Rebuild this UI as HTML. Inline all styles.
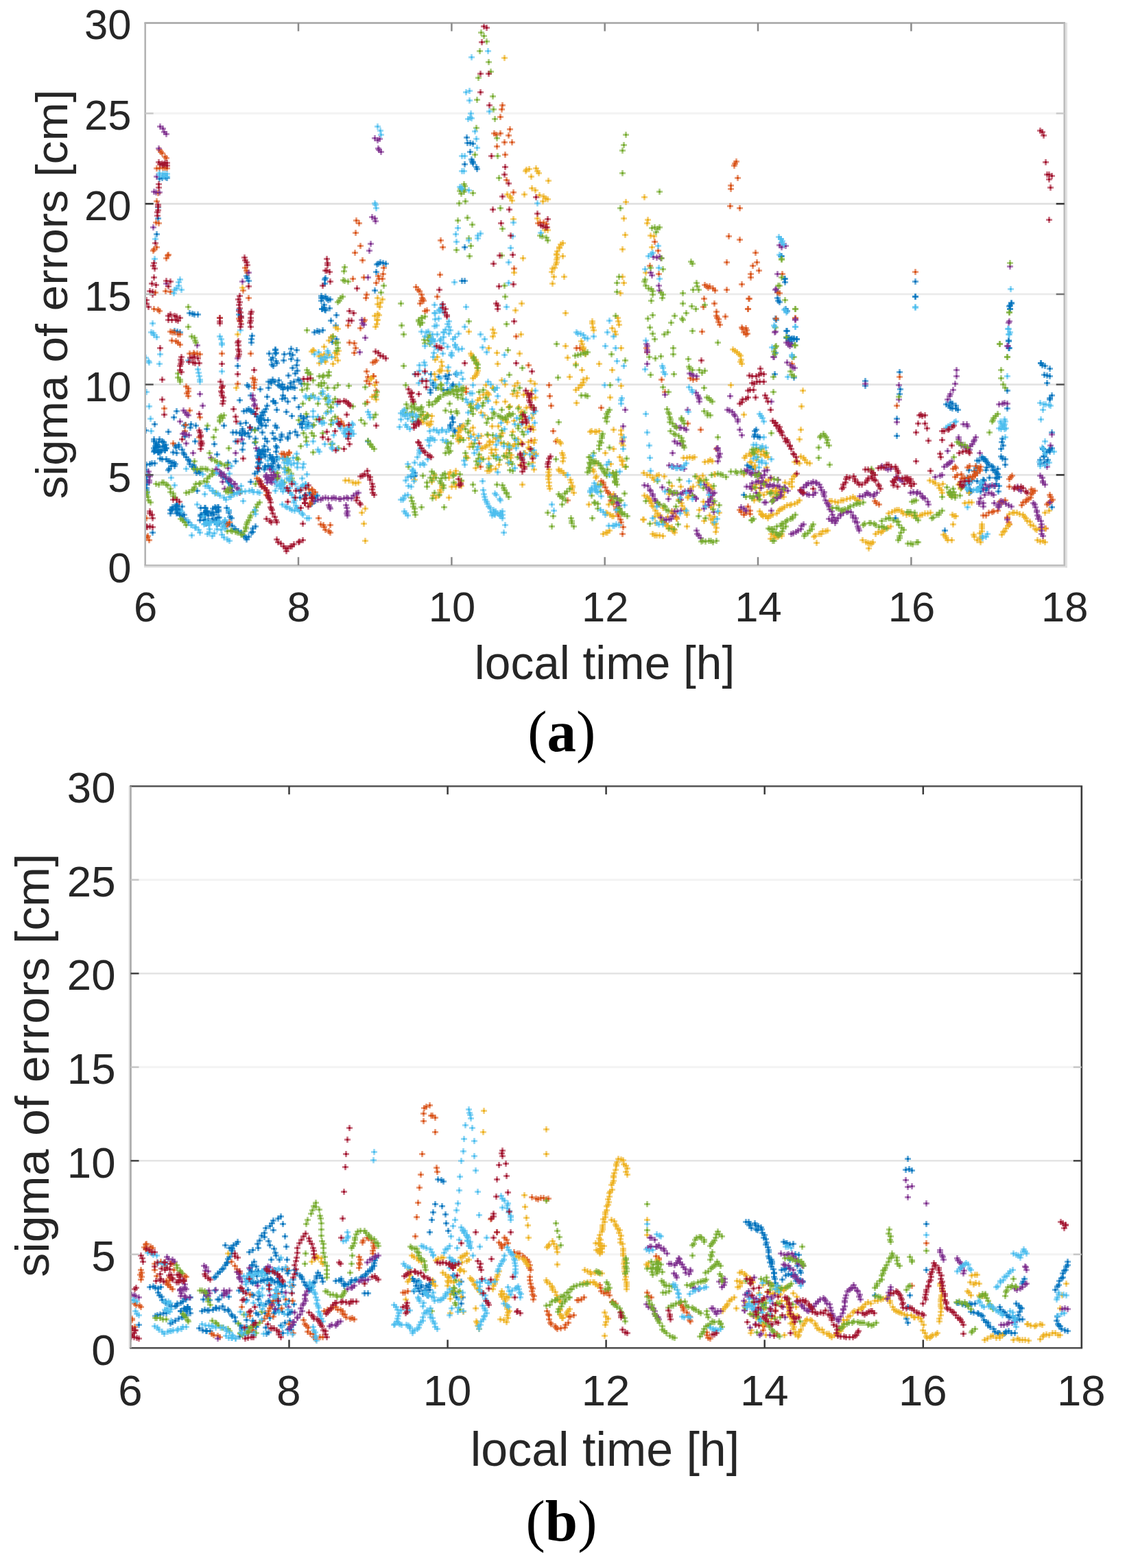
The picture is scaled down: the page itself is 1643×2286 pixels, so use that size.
<!DOCTYPE html>
<html><head><meta charset="utf-8"><title>sigma of errors</title>
<style>
html,body{margin:0;padding:0;background:#fff;}
body{width:1643px;height:2286px;overflow:hidden;}
svg{display:block;}
.t{font-family:"Liberation Sans",Arial,Helvetica,sans-serif;fill:#262626;}
.cap{font-family:"Liberation Serif","Times New Roman",serif;font-size:85px;fill:#000;}
</style></head><body>
<svg width="1643" height="2286" viewBox="0 0 1643 2286">
<rect width="1643" height="2286" fill="#fff"/>

<line x1="211.7" y1="692.4" x2="1551.7" y2="692.4" stroke="#e5e5e5" stroke-width="2.6"/>
<line x1="211.7" y1="560.6" x2="1551.7" y2="560.6" stroke="#e4e4e4" stroke-width="2.6"/>
<line x1="211.7" y1="428.9" x2="1551.7" y2="428.9" stroke="#ebebeb" stroke-width="2.8"/>
<line x1="211.7" y1="297.1" x2="1551.7" y2="297.1" stroke="#e0e0e0" stroke-width="2.6"/>
<line x1="211.7" y1="165.3" x2="1551.7" y2="165.3" stroke="#f3f3f3" stroke-width="3"/>
<line x1="190.5" y1="1828.8" x2="1576.8" y2="1828.8" stroke="#f3f3f3" stroke-width="3"/>
<line x1="190.5" y1="1692.3" x2="1576.8" y2="1692.3" stroke="#e4e4e4" stroke-width="2.6"/>
<line x1="190.5" y1="1555.8" x2="1576.8" y2="1555.8" stroke="#f3f3f3" stroke-width="3"/>
<line x1="190.5" y1="1419.2" x2="1576.8" y2="1419.2" stroke="#e4e4e4" stroke-width="2.6"/>
<line x1="190.5" y1="1282.7" x2="1576.8" y2="1282.7" stroke="#f3f3f3" stroke-width="3"/>
<defs><clipPath id="ca"><rect x="211.7" y="33.5" width="1340.0" height="790.7"/></clipPath><clipPath id="cb"><rect x="190.5" y="1146.2" width="1386.3" height="819.1"/></clipPath></defs>
<g clip-path="url(#ca)"><defs>
<marker id="mB" markerUnits="userSpaceOnUse" markerWidth="9" markerHeight="9" refX="4.5" refY="4.5" overflow="visible"><path d="M0 3h9v3H0zM3 0h3v9H3z" fill="#0072BD" fill-opacity="0.55"/><path d="M3 3h3v3H3z" fill="#0072BD"/></marker>
<marker id="mO" markerUnits="userSpaceOnUse" markerWidth="9" markerHeight="9" refX="4.5" refY="4.5" overflow="visible"><path d="M0 3h9v3H0zM3 0h3v9H3z" fill="#D95319" fill-opacity="0.55"/><path d="M3 3h3v3H3z" fill="#D95319"/></marker>
<marker id="mY" markerUnits="userSpaceOnUse" markerWidth="9" markerHeight="9" refX="4.5" refY="4.5" overflow="visible"><path d="M0 3h9v3H0zM3 0h3v9H3z" fill="#EDB120" fill-opacity="0.55"/><path d="M3 3h3v3H3z" fill="#EDB120"/></marker>
<marker id="mP" markerUnits="userSpaceOnUse" markerWidth="9" markerHeight="9" refX="4.5" refY="4.5" overflow="visible"><path d="M0 3h9v3H0zM3 0h3v9H3z" fill="#7E2F8E" fill-opacity="0.55"/><path d="M3 3h3v3H3z" fill="#7E2F8E"/></marker>
<marker id="mG" markerUnits="userSpaceOnUse" markerWidth="9" markerHeight="9" refX="4.5" refY="4.5" overflow="visible"><path d="M0 3h9v3H0zM3 0h3v9H3z" fill="#77AC30" fill-opacity="0.55"/><path d="M3 3h3v3H3z" fill="#77AC30"/></marker>
<marker id="mC" markerUnits="userSpaceOnUse" markerWidth="9" markerHeight="9" refX="4.5" refY="4.5" overflow="visible"><path d="M0 3h9v3H0zM3 0h3v9H3z" fill="#4DBEEE" fill-opacity="0.55"/><path d="M3 3h3v3H3z" fill="#4DBEEE"/></marker>
<marker id="mR" markerUnits="userSpaceOnUse" markerWidth="9" markerHeight="9" refX="4.5" refY="4.5" overflow="visible"><path d="M0 3h9v3H0zM3 0h3v9H3z" fill="#A2142F" fill-opacity="0.55"/><path d="M3 3h3v3H3z" fill="#A2142F"/></marker>
</defs>
<path fill="none" d="M232.5 260.5l4-1 5-1 2 1-13 59-2 23 131 61 1 3 2 4 112-4-1 2 0 6 76-28 2-1 3-2 4 1 4 1-14 12-2 27 127-14-434 241-4 6-11-3 16 3-3-6-12 6 4 0 12-8-11 11 6-16-12 0 16 13-15 1 17-4-13-2-5-11 17 13-9 6-1-1 7-14-11 2 0 6 0-4-3 10 5-9 5 9-4 1 2-8 0-11-1 4-22 34 4-1 5-1 3-1 4 0-13 9-1 3 0 3 2 5 0 4 1 3-1 4 0 5 0 3 0 4 9 58 11-108 3 1 6 0 3 3 2 0 6 2 2 2-1 3-5 0-3 4-1 2 9-203 4 1 4 1 14-28 4 1 3 1 5 0-20 162-8 28 0 3 5 4 2 5 1 2 3 4 3 4 2 2 0 4 4 4 3 1 1 3 5 3 2 2 35-69 22-169 0 7 2 3-4 72 21-44-1 5 0 5 0 101-27 30 5 0 5 1-6 12 0 29-23 18 2 0 3 5 4 2 3 4 1 2 3 4 2 3-1 5 3 3-48 32 10 12-5-15 20-8-14 20 10-20-21 1 26 5-5 16-12-16 18 9-20 3 1-12-9 13 26-4 1-15-20 11 21 13-17-18 1 6 15-8-4 14 1 1-6-11-9 0 14-7-17 18 1-18-6 12 8 11 16 1-17-24-5 11 17-1-13-1 11 7 4 4-3-19 5 5-8 2-50-13 0 2 3 5 2 2 0 6 3 2 2 5 3 1 4 3-18-20 12 9-12-12 9 0-17 10 10-1-1 1 1-11-10 6 15 5-13-4 6-2-5-3 9 9-10-6 77 19 3 2 4 1 4 2 3 5 2 0 4 3 4 2 4 5 3 2 1 3 3-4 4-6 2-1 0-5 4-3-42-27 3 4 0 3 2 6 2 2 45-98 14 12-20 5-1 6 21 0-3-17-7 2 17-13-1-2-23 9 24 10-18 15-5-17 10 12 8-4-14-13-7 21 18-4-17-13 21 6-23-5 26-9-24 3 18 22-19-28 3 7 10-7-7 1 22 22-30 9 0-23 31 17-9-15-18 8-4-17 10-7 1 31 10-12-2-2-17 6 9 6 17-13-11 13-6-21 11 26 57 37 5 9-8-12-7 4 0 0 10 12-17-9-1-10 23 10 3-3-102-161 51 20 1-5-59 52 57 8 2-69-9 56-14 20-18 2 40-85-61 57 69-51-43 58-13 12 28-71-11 46 7 9-26 11 19-14 23-20-21 33 48-1-32-44-44 61 56-13-33-20 56 21-32-47-15 52-5-19 20 19 18-54-70-2 36 29 34 27-67-5 67 3-21-53 24 47-14 10-29-74 18 64-31-5 63-46-28 40-12-42-18 48 46-26-61 31 59-51-16 59 26-33-35 6-25-36-1 46 16-12 3-5-21-42 73 30-77 23-3-17 4-1 3-2 3 2 4 2 2 3 3 4 3 4 1 4 1-6 1-4 2-4 3-1 2-4 2-5 16-30 2 1 3 2 4 0 5 1 4-1 3 0 3 1 10-6-38-50 1 17 34 28-4-44-2 34-7 14-31-43 36 41-4-33-4 24-25-23 7-10 12 2-13-1 23-7 2 9-35 39 9 0 34-3-38-22-2 25 39-16-20-15 19 7-10-17-21-5 25 26-29 17 6-24-6-8 36 4-35 8 8 21-11 4 52 49-9-1 4 8 0-4-5 8 18 2-7 1-8 2 6-5 3-2-7-7-2 8 96 26-64-199-4-13 12 18-11 1 9-13-4 15-1-1-5-13 8-3-7 15 3-2-4-14 2 0 11 2-7-4-16 52 4-2 3 1 5-2 12-14 1 25 1 6 6-39-1 15 1 20 164 52-5 2-3 20-19 4 25-20-21 6 28 4-31-17-1 23 4-7 4 4 4-16 21 11-8 8 12-23-8 79 0-3 6 6-6-8 7 10 10-8-14-11 1 5-1-7 11 13-67 73 1-5 0 4-5 1 81-494 1 8 4 0 4 1-4 12 2 11 1 3 1 3 5 5 1 3-6-10-12 3 0 121 0 49 462-36 4 33-10 19-31 201-2 2 0 5-1 3 5 0 3 1 26-203 3 6-6 24-1 81-40 133 3 3 3-1 3 3-14 38 250-311 0 22 140 10-3 4 1 4-2 47 0 10 47 22-373-123 0 5-10 27-3 28 16 16-1 10 3 0 4 2 4 0 4 0-12 2 1 2 4 3-24 13 8-141 9 80-2-3 1 32 1 10 3 0 4 1 3 0 4 1-4 56 104 5 0 7 50-20 1 25-1 7-4 36 0 25 27-203 45 157 4 2 2 3 3 1 5 0 3 2-11-11 3 2 5 3 81-150-2 4 0 5-2 46 1 11-3 62 0 26-7 44-1 5 2 5-3 5 0 11 2 3 4 1 0 8 52-148 2 3 4 1 7 4-8 9 4 1 4 1-4 10 7 18-3 4 0 2 3 48-3 28-3 12-5-5-6 5 13-14-3 17-10 3 17-23-13 1 0 0 5 5-4 6 1 9 8-19-106 16 3 0 7-2 2 0-131 86 124-46-17 6 16-5 4 1-8-10-13-2 3 14 28-17 13 20-1-33-11 25-5-27 15 16-15 14-15-30 30 9-41-5 44 23-36-22 32 19-15-20-8 31-19-20 3 22 2-2 34-8-37-2 21-7-16 1 30-15 4 11-28-7 9 16 5 9-3-14-3-34 2 2 4 4 2 2 2 3 4 2 2 1 2 5 3 3 2 3 2 4-79 78 156-34-1176-107-71 57 67-34 24 27-132-53 5 45 34-31 17-18 64 77-49-40-34 16 5 37 84-25-18-65-97 27 1 8 119 41-4-62-102-20 7 4 35 24 20 27-79-66-1 51 17-23 9-18-23 31-29 1-14-23 45-28 28 21-60-2" marker-start="url(#mB)" marker-mid="url(#mB)" marker-end="url(#mB)"/>
<path fill="none" d="M232.5 218.5l2 3 2 2 4 5 2 2-14 15 4 0 5-1 3 0 3 1-13 36-2 12-1 31 4 1-3 35-4 3-1 2 22 6-1 1-2 4-1 48 7 1-22 1 131-36 2 4 1 3-6 26 160-17 5-85 4 4-5 14 7 19-8 10 11 11 31 11-8 12 1 4 5 0 1-7-10 13-18-8 76 14 3 4 2 2 3 5 28-79 3 10-4 40-417 50 6 1 2 2-17 328-1 2 3 4-4-32 35-272 3 1 3 0 5 3 3 0-12 9 6 1 3 2 3 3 14 13 6-1 1 2 4-1 4 1-20 47 3 3 0 4-2 3 2 4 17 31-22 20 21 9 30-174 3 52 0 50 25-101 2 4-4 91 16-125 3 81 3 36 3 2-1 4 0 4 0 4-41 201 2-1 3-4 40-64 3 2 1 4 2 3 3 3 3 2 2 5 0 5 2 1 2 4 75 38 4 1 1 3 2 4 5 2 2 2 0-11-17-10-45-92-7 4 1-6 2 5-5-5 4 1 7-3 0 1 24 49 5 4 4 0 1 1 4 3-3 3-2 5 0 5-2 3 0 2 40-125 5 4 0 3 4 3 24-142-16 21-2-25 24-8-13 41 12-39-14 32 0 14 27 14 3-1 2-2-14-96-1 5 15 123-4-9-9 38 11-10-12-35 2 8 2 10-4-4 10-7 4 21 74-117-5-14-5 4 4-6-1-2 4 19-5-15 23-6 95-279-1 6-2 11 14 18-23 6 3 2 6-2 12 3-6 10 11 0-22 6 12 12 2 37 10 18 36 45 3-1 5 0 4 2-47 65 205-39 5 13-12 22 13 12 67 16 3 2 4 0 5 3 3 3-10-4 27 3 22-8-8-179-2 3-1 3 5 18-10 11 0 5-1 25 14 3-16 41 16 5 23 19 2 14-6 5 9 7-12 5 0 5-35-22 81 17-4 28-384 63 18 42-28 123-63-84 100 92-100-97 21 114-2-34 76-4-1-49 27-32 1 16 2 14 3 37 4 15 17 86 13-222 5 0 4 2 27 85 0 107 3 2 0 3 3 4 2 5 2 3 3 2 2 4-1 5 2 1 2 4 4 5 0 3 2 4 1 3 0 3 3 5 1 4 3 7-1 10 119-343 15 7-16 5 19 7 0 6 1 3 2 2 0 4 2 4 8-12-34 22-17 68 4 2 5-1-73-45 1 6 21 40 5 18 33 46 19 9-42 119 2 3 4 5 1 2 58-101 47-219-1 15-9 27 1 2 2 5 3 3-9 256 2 3 4 4 250-354-203 68 28-1-72 15 1 3 1 5 3-51-2 15 43-24 26 38-5 66 157 19-4 42-214 158-6-2 3-9 3 6 182-14 2 3 4 2 125-38-11-5-6-9 3-3 18 1 12-2-8 16-21-13 27 5 8-3-24 13-2 0 24-15-15 14-19-1 29-2-8-14 16 1-8 12-20-1 9 10 2-3 4 0 2-4 3-3 3-2 4-3 5 65 4 0 4-4 5-1 2-1 6-1 14 10 0 1 2 6 1 3-14-33 3 1 5-3 6-20 4-16-2 2-2 3 18 38 2-4 4-1 1-3 3-1 3-2 1-5 2-2 12 51 7 1 6-49 1 3 3 4-2 2-4 3-2 2-23-22 2 2 3 0-1238-96-31-24 37 3-24 48" marker-start="url(#mO)" marker-mid="url(#mO)" marker-end="url(#mO)"/>
<path fill="none" d="M353.5 419.5l-7 68-2 78 159 135 5 0 6 3 4 1 4-1 10 38-2 22 2 25-5-41-62-228 0 10 14-12-25-5 13 6 7 9 17-11-22 4 24-9-20 14-16-14 35 14-20-20 16 16-3 9 3-16-32-4 16 6 78-73 4-2 3-5-5 23-3 13 1-6 3-19-3-13-3 42 2-10-3-6 4-3-4 104-4 17-1-27 7 31-8-30 8 23-69-79 6-6 7-11-3-2 0 22-7-8 151 54 7-4 1-2 3-6-10-9 18 16-18 13 3-33 6 7 0 13-21 77 1-11 2 13-3-15 5 14-11-13-3 7 15 2 1-8-13 9 52 28 0-13-1 9 6-17-1 16-4-14 2 16-3-6 4-7 0 12-3 1 1-3-65 62 31 26 7-8 2-10-11-15 25 17-14 0 10-13-23 26 10-8 13 11 2-37-17 34 15-31-23 6-2 5 43 6-8-18 0 19 0-23 8 15-8 4 71-621 31 165 1-2 4-1 10-1 2 4 2 3-11 5 25 6-60 20 4 3 1 2 2 4 18-9 11-9 5 3 6 7 6 2 3 3 3 1-7 3-8 25 11 17 4 0-50-16 14 57-13 21 71-43-3 2-2 4 0 1-3 5-1 4 0 1 1 4-1 3 0 4-1 3-2 5-3 1-1 5 16-23-13 30 15 0-17 10 134-126-27 7-3 24 2 24-4 21 0 40 2 9-5 15 40-107-1 5 5 18 5 1-3 16-9 37-181 45-9 10-68 31 35-3 2 5-2 5 41-3-73 28 1 3 2 3 4 3 1 3 0 3 1 6 1 4-1 3-1 3-2 2-3 3 23-44 12 7 33 1-32 15 11 55 2 75 12-98-49 73 78-76-39 88 21-47 0 16 12-61 2 54-57-44-17 88 46-79-36-1-15 10 14 103 71-25-55-40 32 56-3-37-59-2 69 22-81-9 28-76 66 70-24-73 9 108 8-26-8 8-26-50 26 48 4-66 10 32-2-57 3 91-77 7-2-87 24 6 4 91 21-27-32 10 43-14 16 19-57-100 26 102-33-33 53 27-89-41 1-52 85 42-22 5-29-33 2 86 29-75-57-3 65 23-4 50-58-17-8 19 15-75 83 13-79 71 42 1-23-54 59 1 4-43-17-4-32-21-38 128 30-19-22-62-16 27 81-5-51 56 55-35-87-6 39 45-9-40 29-39-12 41 41-24-58 65-32-19 66-38-25 26 48-3-16-94-45 14 67 102-86-41 46-73-20 95 27-63 13 1-23 18 46 30-19 4-45 39 35-37-46-72 32 90 23-64-70 22 79-48-15 2-45-16-2 44 72 79-84-89 81-15-72 73 4-2 2-2 4-1 1-4 4 0 4-5 1-1 4-3 3 0 2-4 29 75 51-65 4 3 1 2-17 38-1 4 1 4-1 2 0 4 1 5 0 5 1 4 13-28 1 2 3 0 3 3 3 3-5-32 1 3 1 4-1 5 11 27 1 4 2 5 0 2-1 3 3 5-12-214 3 17 3 28-6-93 23 41 1 4 2 5 0 2 2 4 1 4 10-48 0 3 1 6 1 4 8 49-25 9-9-9 16 21-5 2 0 4-2 4-2 0-3 4-4 3 1 19 52-109 4 5 1 4 3-24 1 5 1 5 3 34-13 32 13 23-16 17-29 50 2-1 5 1 2 0 4-1 21-2 11 1 0 6 2 5 0 3-1 5 2 3-26 11 1 87 2 1 4 2 5 2-15 26 4-2 2 0 3-3 15-107 3 5 1 1 0 5 4 3-17-26-25 21 25 45-30-36 26-8 3 13-22 17 16 29-29 0 11-41 24 38-1 20-24-56 26-5-29-4 36 58 37-56 5 3 4 0 4 4 6-3 3-1-21 30 4 2 2 2 2 4 2 3 1 4 2 1 3 6 3 4 1 3 3 0 2 5 1 3 2 1 3 4 2 2 2 4 15-42 2 1 2 4 1 4 3 5 1 1 2 4 15-53 4 3 2 3 5 0 4 4 2 3 4 2 2 3-87 66 3 2 3 0 4 0 5 1 1-19 3 1 3 3 5 4 3 4 2 2 51-25 2 6 3 5 2 2-55-8 16-31 34 14-61-19 68 43-3-28-87-36 27 48-43 10 88-26-87 26 45-12 18 5-18 22 61-3-38-57-27-4 60 48-13 3 22-12-75 6-7-13-11 22 37-53 49-18 0 62-87 0 47 14 2-44 39-32-18 2-56 1 67 30-16-17 0 36-71-14 70-26-8 6-31 59 64 7-47-108 5 0 4-1 4 1 3-1 15 7 5-1 3-2 3 2 30-163 3 2 3 2 3 3 2 2 1 6-1 3 2 3 3 74-19-43 20 106 2-3 5-3 4-1 4-2 4 0 2-3 4-2 3 5 1 4 1 2 4 2-12 52-23-27 21 36 39-24-5 20-3-9 7 3-2-4-45-2 17-7-6 7 13-12-19 12 13-4 10-10-8 4 15 18 0-8-32 18 16-24-13 1 25 18-14-3-16-12 9-7 1 43 3 5 2 2 4 0 3 3 5 23 4 2 2 1 4 1 5-1 31-212-2 23-1 34-2 14 2 25 4 2 2 3 3 4 4 1-22-2 4 0 3 2-65 3-6-14 8 6 15 11-24-8 6-12 1 20-5-7 14-12 7 1-7 86 2 1 5 2 4 0 3-1 3-1 6-2 3-4 2-2 3-1 3-2 4-3 4 0 2-1 5-1 4-2 3-3-47-12 5-1 3-1 4 1 3 2 3 2 3 1 3 3-19 61 6-2 3-1 3-2 4-2 47 4 2-1 6-3 3 0 2-4 4 0 3-1-16 18-40-86 4-3 0-4 3-4 2-2-5 17 55 21 3 0 5 1 4 1 5-3 3 0 5-2 5-1 4-2 3 2 3 3 3 0 5 58 5 3 3 1 3 1 2 0 2-2-6 9 10-21 4-3 4 1 2-2 3-3 5-2 4-2-3-19 5-2 4-2 3-1 3 0 4 2 2 3 5 2 4-1 4 2 3 0 4 1 5-1 3-1 4-2 4 0 4-1-1-47 5 2 3 2 5 3 1 4 3 3 1 4 26-14-8 18 9-10-26-7 23 1-11 16 26-4-28 3-9 58 3 2 1 3 2 3 6 0 1-37 3 2 2 0-4 12 30 15 1 3 4 5 5 3-1-5 2-2-2-6 3-3 0-4 0-3 0-3 29 15 2-4 2-1 2-4 3-4 2-2 0-15 5-2 2 0 4 0 4 2 5 1 2 3 2 2 2 4 4 1 1 5 4 1 3 5 2 1 5-1 2-1 5 0-11 17 4 2 4-1 3 2 0-43 6-3-123-11 6-1 4 0" marker-start="url(#mY)" marker-mid="url(#mY)" marker-end="url(#mY)"/>
<path fill="none" d="M233.5 184.5l4 3 2 5 3 3-11 21-3 41-4 22 3 1 5 0-9 51 19 82 120-16-9 13 189-94 4 2 1 4-7 33-2 10-2 39 10-203 4 3 3-2-2 14 1 2 3 3-339 466 1 5 1 2-1 6 0 3 70-200 4 71 4 17-28 7 3 3 2 3 2 1-12 9 4 18 2-1 3 2 4 1-4 12 10 14 65-138 22 54 0 5 2 2 1 6-1 2-27 69-29 24 2 0 4 4 2 1 4 2 2 4 5 3 2 1 1 2 5 4 1 0 3 6 2 2 2 5-22-6 6 1 4 2 120 15 6-2 4 0 3-2 4-1 4 1 5 0 3-1 3 1 5 1 2 0 5-1 4-1 2 1 5 0 3-4 4-3 3-1-18 18 1 4 1 5-1 3 1 3-27-15 1 3 1 2-79-44 1 0-4-5-7 4-4-4 14 6-3-10-4 4 4 0 1 10-10-6 12-5-6 12-9-9 2 5 16-5-17 1 9 3-1-2 7-2-9 8-4-5 4 2-5 4 4-19 131-171 4-42-1-5 3 7 2 19 420-118 5 1 4-1 2 2-15 21 2 4 10 15 1 7 175-66 3 3 6-2-12 41-3 23-219 175-3 24-1 22-11 80 3 3 0 6 2 1 1 4 0 4 103-197 3 1 2 2 5 1-73-47 1 3 0 6 0 3 0 17 26 45 45-3 3 4 1 3 1 2 0 4-34 36 5 2 2 0 5 1 3 2-17 17 4 3 4 0 4 3-15 11 22-63-63 110 5 1 3 6 1 1 3 5 0 2 3 5 1 3 3 3 2 2 15-57 4 1 2 1 6-1 4 2 1 0 5 2-17 36 3-1 4 1 5 1 3-2 3-2 5-1 2 3 4 4 3 2 14-18 3 4 4 3 1 2 5 4-2 3-2 4 0 2-3 3 1 5-5 1-2 4-11 32 1 5 2 2 3 4-58-30 5 4 3-1 4 0 3-1 2-4 65-99 1 0 0 3 3 5-2 3 1 2-2 6-12 46 6 28-66-19 67-9-34-3-42-5 8 4 41 13 25 5-47 12 22-18 18 5-40-3-5 17-4 0 81-168-4 20 3 1 4 2 3 4 1 2 4 5 0 3 3 12 3 8 49-151-3 37-3 65-39 101 3 1 5 2 3 0 5 0 1 13 3-1 4 3 3-1 5 3 5 0 4 2 2-1 5 1 3 1-56 30 4 2 3 3 37 0-14-48 23 29-29-1 12 8-23-23 9 9 30 8-12-17 14-10-30 24 10 9-19-20 377-324-2 82-2 34-309-39-30 19 17 15 3 3 2 2-23 16 3-99 28 45-10 33 5 3-7 26 5 4 3 3 3 1 103 23 49 2 0 21-3 33 87-76 0 9-2 11-3 9-4 6-1 3-3 5 90-114-2 36-13 85 5-1 3-1 4 1 65 45-2 16-5 31-122-62 5 0 1 3-13 16 0 3 3 5 1 4 5 2 2 1 5 3 1-5 3-3 2-4 1-2 2-4-41 20-5 23 4-3 2-1 2-2 3-2 41-12-333 31 23-6-4 1 9 10-14 15-20-26 23 17 2-10-9-3-3 3 6 1-12 11-8 5 17-18 21 39 1-1 5-4 5-2 1-2 0-4 2-4 3-3 1 1 4 4 5 63 3-1 4-2 3-2 4-2 1-5 3-2-4-48 1-2 3-4 4-3 0-1 3-2 4 0 3-2 4 1 1 1 4 2 2 4 1 4 4 3-1 3 1 3 2 6 2 4 2 2 1 3 1 4 3 3 1 5 2 4 2 4-47-39 6 1 3 1 6 0 3-3 20 38 4 3 1-1 4 4 1-3 3-4 4-4 0-2 4-2 5-1 2-1 4 1 3 5 0 3 4 1-1 5 3 1 1 6 1 3 1 3 1-50 4 0 4-2 2-3 2 1 3 2 5 2 1-3 4-2 7-39 6 3 3 2 4-1 8 12 3 2 3 2 3 2 12 17 4-1 5 2 1-2 4 2 3 4 1 2 3 1 4 5 1 4 10-40 7-2 3-1 82 47-20-18 1-15 20 29-23-22 16 20-8-15-8 15 22 3-26-10 30 4-18-21-14 22 0 3 21-13 8 17-10-31-1 12-12 19 17-30 12 23 4 3 4 2 4 2 32-5 2 2 1 4 2 5 0 2 1 5 2 2-1 3 4 3 1 5 0 4 0 5 0 5 2 3-4-88 3 3 1 5 0 2 3 3 7 26-47-23 2 4 3 2-20 42-1144-55-17-35 66-14-41 29-10 11 30-53" marker-start="url(#mP)" marker-mid="url(#mP)" marker-end="url(#mP)"/>
<path fill="none" d="M502.5 389.5l-1 6-1 13 2 1 5 1 52 6-4 10 116-151-1 3 2 4-3 14-2 25-2 43-451 353-1 4 2 3 1 5 3 3 8-27 4 1 5-3 2 0 4 3 2 1 4 5 0 5 4 2 0 4 3 2 4-181 0 6 3 3 0 3 12-109 0 29 5 14 4 2 1 4 1 3 39 110-4 3 0 2-6 12-3 11-29 46 5 1 5-1 3 0 4 0 3 1 7 2 2 3-2 2-4 3-3 3-1 5-4-1-6 3-1 1-5 0-2 5-1 3-2 1-5 3-4 1 37-49 5 2 3 2 4 2 2 1 5 2 4-1-11-69 2-2 4-1-21 55-42 96 3 2 3 3 2 4 60 9 5-1 2 1 5 1 3 1 5 3 2 0 3-5 2-4 0-2 1-4 1-3 2-3 2-4 1-3 4-5 3-2 1-5 2-4 3-3-49-16 3 1 5 1 82-50-1 3 1 14 2 13-17-1 14-10 7 10-10-15 19-13-10 21-20-1 21 12-11 2 6-19 12-17 6-17 36-69-11 7-13-8 6 79 37-6-52-65 46-23-10 24 15-28-10 33-39-35 40 53-37-9 42-22-20-8-22 64 30-58-36-11 30 41-19-29 19 51 12-13-35-52 30 34 0-35 5 28 2 54-20-86 24 46-3-21-39 57 10-67 1 43-22-7 26-1-19 20 40 16-28-16 3 4 79 7 3 5 1 1 2 3 3 3-31-62 18-28 15 14-3 30 5-37-23 41-18-50 24 26 15 16-16 13-75-63 12 8 2-13-21-6 30-1-31 1 20 15 4 0-25-19 32 8-2 0-25-2-4 15 23-13-6 1-18-67 45-41 2-2 2-4 3-2-14 58 7 9 0 8-2 4-1-11 95-58 1 32 3 13 0 46 3 28 23-98 5-2-7 12-2-7 2 5 3-1-5-2 5-5 11 38 2-5-2-8-2 8-6-1 10-1-5-3-4 9-15 95-13 7 11-16 5 28-15-25 22 4-14 7 0 2 9 11 16-27-15 21 11 1-8-4-10-11 15 17 5-5-22 2 15-7-3-5-3 2-17-2 9 19 6-18-9-4 4-3 22 1 5-1 4-4 2-1 2-4 3-2 5-3 3-2 3 0 4-1 4-3 4-1 4 0 4-2 3-1-9 37-12-31 3 29-15-40 13 28 11-13 8-6-9-6-27 2 1 16 19-14 14 8-29-8 22 32-22-38 23 9 8 11-13-7 6 5-18 19 0 62 7-3-5-12 1-1 1 7-1 2 8-18-3 11 13-5-16 18-59 21 51 27-14-17-2 36 12-22-9 14 12-26-4 9-6-5-6 4 0-13-7 22-6-16 27 4-16-1 21-6-8 31-18-18 24 8-47 14 1 5 2 4 0 4 2 3 0 5 1 4 9-11 33 0 25-39-23-4 12-4 9-1-9 12-1-10 41-646 4 5 4 8-10 14 13 16 3 14-18 9 21 27-23 5 24 14 2 14-27 13 30 15-32 24 33 2 2 32-51 9 1 3 0 5-1 3 13 2-11 12 51 10-48 14 7 10 99 16 3 1 6 2 2 4-66-17-49 14 3 11 45 14-47 1 51 43 177-220-3 15-2 8 0 33 54 27-57 24-2 100-3 9 0 13 51-93 4-1 7 0-3 2-2 5 8 38-16 14 18 2-26 15-1 3 2 6 4 4 4 1 2 3 0 5 12-3 3 3 41-48 2 3 6 28 1 5 2 5-8 0-15 5 144-49 0 26-3 12-400 16-53 36 55 4-48 48 0 2 1 3 3 4 2 2 0 5 44-26 21 26-19 10-33 70-23-23 31 16 60-15-81 83 27-9 19-8-34-81 47 41-21 26 21-51-42 83 18-81 11-4 15-28 6 68-51 48-9-90-21 39 73 17-36 17-33-65 57 86-1-36 15-39 18 46-64-46 49-5-66 67 37-45 15 49-57-73-7 10 46 57 18-36-28 0-14 35 55-1-68-22 64-22 15 52-16-10-10 7-55-22 61-12-46-71 35 98-35-79-6-16 49 115 13-80-11-37 15 32-89 40 14-46-8 22 53 47-55 3 7-79 56 15-32 30-12 29-1 6 64-39-83 31 0-35 42-58 22 86-5-42-8 25-10-35 1 2 6 3 3 1 3 2 4-1 4-2 4-1 3-2-58 103 43 1 2 4 1 3 3 4 0 1 3 5-49-9 32-9 90-91-4 54 4 51 2 3 3 1 1 2 4 3-5 6-21 12 8 5 26 3 1 4 0 3 3 5-32 0 19-48 3-3 4-4-19-211 2 49 25-32 4-1 4-1 4-2 3 1 3-2-17 19 8 44 6 0 3 1 41-117-6 56 20 9-22 36-1 36-4 17-2-5 3-2-1-4 2-3-8 32-1 3 0 3-3 5 2 2-3 4 0 5 15-2-23 8-7 6 4 4 3 2 3 0 4 3 3 3 1 4 2 1 2 4 1 2 3 4 4-2 5-2 2 4 0 2 1 6 1 1 2 4-10 18 6 2 3 0 5 3 2 0-5 13 3 2 3 3 1 2 3 0 4 3-16-60-38-26 6 66-10-44 15 46 42-66-50 87 49-75-37 36 0-10 9-15-25-17 7 1 26 57-21 9 27-43-13-14 25 35-51-38 37 22 2-15 4 54-40-20 5 11 36 8-43-66 0 2-2 5 1 4 124-226 17-4-32 31 35 36-30-39 50 59-28-101-14 65-16-73 62 106-76-54 44-20-49 54 63-38-62-5 1 69-4-82 64-18-59-8 5 56 60-44-59 72 23-52-27-11 76-15-64 75 56 20-37 6 12-81-13 52 65-17-42 35 1 3 4 2-43 25 8 7 52-6 4 14 3 1 2 3 3 2-66 11 2 5 1 2 1 5 1 3-1 4 4 2 3 4 3 2 7-14 0 2 2 2 2 4-20 11 5 4 2 1 5 2 4 3 0 4 2 1 1 6 1 3 29-53 5 3 0 3 4 0 11 32-71 78 2 1 5 2 4 0 36 71 2-1 4 1 5-1 3 0 3 2 5-2 2-98 4 1 3 1 5 3-73 43 43 17-40 9-6 7 8-72 31 3-8-8 35 42-28-36-11 22-44 38-24-30 6 33 90-71-48 38 29 22-43 18-17-69 71-2-71 33 17-29 66 27-16-19 15-3-1 34-78-7 6 2 2 1 2 5 3 1 156-239-1 2-1 5 1 4-2 33 0 22-3 60-59 56 7 0 2 2 6-2 4 2 22 33 22-24-30 25 26-5-2 1-22-27 6-2 36 22-17 19 8-32-29-5 28 27-19-16-13 5 27 18-7 42 5 1 1 4 5 1 2 3 2 1 2-2 3-4 1-4 4-3-19 21-28-32-3 2 377-375-1 72-14 46 11 19-324-83 15 13-29 27 29 26-13-12-15 13 24 16-21-104 5-39 20 73-1 53-1 17-5 21 2 5 3 2 38 89 1-2 4-3 2 3 2 2 2 4-1 4 3 4-15 3 0 15 16 10 101-99 161-123-14 46 11 19-9 19 0 12 3 9 3 5-19 49 1-2 1-3 3-3 3-3-12 27-47 14 3 2 4 2 4 0 4 4-20 14-286 0-7-7 2 2-3-6 6-2-4 2 11-1 8 6-30 64 9 2-3-3 12-2 2 7 15 43 3 0 3 0 4-4 6-1 1-3 2 0 4-3 2-2 5-2 3-1 0-2 4-3-31 38-32-30 76 23 1-3 4-1 3-4 3-2 0-4 2-3 28-24 6 0 3 1 4 3 2-1 3-1 5-2 3-2 5-2 4-2 2-1 3 1 5-2 12-49 0 2 2 4-14 76 2-2 7-1 2 0 5 1 2 2 5 3 4-1 3 1 4 2-7-11 6-3 4-1 2 0 5 3 5 2 2 0 1 5 4 4 3 3-4 4-2 5 0 3-2 3 13-41 2 0 3 0 6 1 0 4 2 4 3 3-15 34 4 0 3 1 6-3 2 0-9-59 3-1 3-1 23 26 2-1 5-4 3 0 1-3 4-3 19-19-4-4 11 1-7-1-5 3 2-12-4 6 0 3-2-4 2 0 16-6-28 13 11-6 6-1-10-7-1097-38 68 44 20-89-57 91 17-5-29-93 70 24-39 9 2 58 37-6" marker-start="url(#mG)" marker-mid="url(#mG)" marker-end="url(#mG)"/>
<path fill="none" d="M232.5 252.5l5 1 3 0 3 0-11 2 5 2 2 0 4 0-13 45-4 46-1 29 28 50 1-5 3-2 3-4 0-5 2-4 2 15 282-126 1 2 1 5 2-119 4 6 1 6 118 31 0 22-3 23 2 1 1 2-6 57-3 9 1 11-3 59-440 60-2 13 3 1 1 3 4 3-16 30 4 5 1 2-4 43 4 21 2 18 1 18 13-112-1 14 56 8 1 5 1 5 1 5 0 3-17-31-3 158 49-193 2 4 1 6 0 2 0 39 27-60-51 227 4 0 2 3 4 4 1 0 3 4 4 0 3 3 6 3 3 3 5-4 2 0 5-4 4-1 3-2 4-1 5 0 6-1 4-1 2 3 6 0 3 1-58 42-15 2-3 16 13-14-6 17 4-20 9 11 6-14-16 19 11 2-25-16 3-3 27 10-2-5-2 2-19 9 22-18-11 13-12-6-3-4 4 10 12-10-20 3 21-4-11 1-29 4 1 0 5 4 1-1 4 4 2 4-12 4 47 3 5 3 3 2 73-82 2 1 5 3 2 3 3 2 4 3 2 3 3 4 1 4-1 3 3 5 1 3 2 2 2 3 4 3 1 2 6 5 3 0-39-20 5 3 2 1 4 2 3 2 4 1-15-61-13 1 20 16-3-25-6 28 35-12-36 15 9-34-13 33 33-8-16-4-12 23 6-19 23 10-17-30 3-10 14 14 1-5-23-1 2-4-20 31 13-28 1 14 7 9 11-16 13 28-43-1 42-3-38 3 25-47-31 54 32-40-27-7 6 37 6-36 27 37-36 6 21-7 3 7 6-3-29-9 17 3-5 8 6-36-16-7 35-20 44-34-22 3 1-47 21 19-38-12 3 66-11-66 33 9-33 37 27-7 6-39 8 57-40-55 22 35-10-35 6 2 9 66-22-26 29-38 4 71-21-47 22 9-22 39 19-56-26 0 9 59 18-6 1-6-38-30 45 38-35-47 19-5-5-28-5 40 38 18-8-11 20 11-19-8 5 7 6 3 5-7-2 5 0-5 1 4 3-12-1-2-2 12-7 7 2-11 5 10-4-10-4 1 7-3-8 5 34-28 2 4 1 4-75-95 12 8-8 6 9-16-7 13-3-2-9-6 25 4-5-6-5 6 176-40-15-24 6-3-7 3 3 18 6-25-3 15 1-13-7-7 21 32-21-1 21-7-20-3 7-13 3-8 8 28-6 12 0-29-27 49 44-1-33-16 33 4-30 6 0 8-9-22 22 17 17 2 5 7-27-13-22-6 28-6 7 2-16 23-24-26 23 4 19-6 8 25-4-12-33 6 15-6-11 0 21 11 16-19-40 8 18-3-25-7 9 11 43 13-54 35-8-3 34-25-13-1 2 46 8-9 15-34 17 35-64 6 21-38 41 23-14-25 0-4-39 18-15 13 14-17 35 7 13 11-1-3 4 17-54-7 12 1 24 4-40-26 45 33-74 57 12-12 3-5-10-6 3 7 11 7 6-6-1 7-22-12 13 23-6-6 2 3-9-11 22-6-17-8-2 7 14-1-8 0 57 26 0 14-18-17-6 16-3-1 4-3-1-10 18-1-11 14 12 0 9-15-24 13 14-13-5 4-3-3-18 50 5-8-11-11 0 19-1-17 1-7 13-4-9 26-8-9 3-10-17 20 9 25 1-27-3 10-1 8-5 16-4-8 12-9-4 18-5-14 8-9-1 0-17 42 3 0 1-2 2-4 4-1-5 24 2 3 3 3 117-677-24 9-8 51 5-2 0 14 29 16-27 3-4 8 3-2 2 1 5 19 2 11 1 13-18 12-1 22 7 28 100 19 5 43-40-15-1 20-47-4-4 3 0 4-13 3 61 11-3 21 0 30 218-54-14 15 4-3 2-2-11 24 20-2 1 16 174-61 3 3 2 3-4 20-457 76 59 0-61 29 23 11 6 7-3 12 6 7 26 4-24 39 24-1-36 117 82-8-4-62 3-33-55 8-2 71 27-30-39-34 6 12-22 59 35-39-34 35-1-57 39 56 44 6-2 23-24-26-71-67-5 85 76-30-49-36-11 36 88-42-101-17 33 94 48-58-75-45 6 87 34 28 47-26-47 4-37-93 47 52-38-33-20 85 73 5 29-66-26-7 8 59-72-107 8 74 18-75 48 101-39-96 45 64-87-28 59 73-15-32-30-51 75 18-85 27 2-51 35 50 19 16-21-83-17 146 1 6 1 4 1 4 2 3 1 3 2 4 2 2 5 3 3 2 3 3 4-1 3 3-13-3-4-1 15 6-9-2 7 1 1-3-12 3 3-2 1-1 11-3 0 10 2 21 2-11-15-46 2 2 5 6 1 2-26-28 124-9-23 43 3 9 33-260 2 2 4 0 4 2 2 4 4 1 9-3 23-23-3 17 9 6 3 17-15-3 27 29-10-7 2 27-20 8 25 19-1 3 0 5 4 49-38 80 2-8-13 8 7-9 2 1-7 2 5 3-7 1 8-3 1 4 6 27 4 3 3 4 5 16 6 0 2 0 3-2 4 1 6-111-10 89 5-56-27 36-14-10 2-49 23 9 23 63-26-59-18 27 22-12 52-154 1-42 24 37 1 3 1 6 2 3 35 19 4 4 1 3-68 32 2 27 3 19 1 18 1 19 55-86-24 80 6 2 2 0 5 0 3 0 2-4 3-3-43 87 3 2 6 0 75-3 5-16-37-18 24-6-82 34 77-17-7-32-30 42 54 8-88-18 43-20-42-19 33 26-22-9 31 28 4-43 103-98 2 3 2 3 2 5 0 23-15 11 4 0 6 4 3-2 5 2 13-176-27 190-4 2 8 5 4-2 6 4 8-6-14 5-4 7 228-234 139-26-3 58 0 8-327-36 2 1 1 3-18 19 31 2-34 30 29 11-16-169 1 5 3 3 17 120-5 43-6 30 186-101 135 31 3 5-1 3-3 61-10 66 6 4-3 2-2-3-3 7 3 1 4-5 1-9 1 3 1 10-2 1-3-3 4 15 51-50 5 2 3 0 5 1 2 1-11 6-3 14 6 32-4 9 2 3 8 19 7-16-21 15 8 5 0-17-7 18-137-56 3-2 3-2 6-4 2-1 37 90-28 2 9-3 3-2 14 8-1 4-4 1-13-1-2-3 11 4-12-8 18 8 5-11-22-1 15 11 9 71 0-3 5 1 2-4-29-39-1076-49 20 40-3-22-36-19-61 18 83-28 35 70-1-6-53-65-31 57 103-64-141 25 49 24-34 25 32 7-1-61-22 67 60-15" marker-start="url(#mC)" marker-mid="url(#mC)" marker-end="url(#mC)"/>
<path fill="none" d="M231.5 236.5l5 2 4-1 3 0-10 2 4 1 2-1 4 2-12 27 0 5-1 25 0 3 0 5-1 3 0 5-3 40-2 29-1 4 2 4-1 13-3 9 6 2 15-6 6 1-3 7-27 7 4 1 0 4 134-54 1 4 2 3 1 4 2 31 114-40 1 6 0 3-3 8 2 0 4 2 1 14-11 6 50 4 120 2-427 15 0 5 3 5 20 106 0 29 3 22-6-97-15 238 0 3 3 2 1 5-9 12 1 1 4-1 4 1 30-40 5 0 4 3-16-271 3-2 6 2 3 1 5 2-17 3 5 0 6 0 3 1 5 53-1 4 1 3-1 3-1 3 0 6 2 3 11-15 6 1 3 1 6 0-13-8 3 0 3-1 5 2 2 81-25 37 25-13 1 3 1 4 0 2 1 7-1 3 1 3-1 5 2-8 26-183 0 5 0 3 3 59-2 26 3 6-1 2-1 6 1 2 0 4 2 3 0 5-1 4 25-157-2 5 2 4-1 4 1 5-1 4 2 2 1 6 0 2-2 4 2 5-1 4-3 21-1 2 1 4 0 6 1 3 0 4-1 3-1 26 20-91-1 3 0 6 0 4-1 3 1 6 5 63 2 64-29 4 1 7 2 29 33 58 1 4 1 4 4 2 3 3 3 4-1 4 1 3 2 3 1 4 0 7 1 2 1 2 1 5 3 5 2 5 1 3-15-5 5 3 2 2 8 25 2 4 4 2 4 4 3 3 1 4 2-4 4-3 2 0 3-3 7-3 1-1 5-2 0-24 84-69 3-1 3-2 4-5 1 7 3 2 0 4 3 6 1 4-1 4 1 5 2 3-25 4-1 4 5 4 1 2-87-21 0 26 6-7-13-18-1 10 14 8-25-2 35-7-34-9-2-4 37 15-11 7 11-7-12 1 3-1-1-15 0 10 4-14-24-2 24 33 16-127 44 36-2-8-6 15 4-50-11 14 1 0-6 38 4-39-5 11 20-9-30 21-8-3 38-5-32-3 16-44 3 0 6-1 3 1 3 2 1 2 2 2 38 29-106-68 6 0 4-1 95-39 4 2 3 4 4 1 4 3-53-69-1 14 7-11-3 11 133-24 0 5 4 2-1 5 3 4 0 2-15 43 4 2 3 1-38 38 5 29 9-33-19 31 15-17-6-10 12 10 0 9-26 3 2 6 2 0 0 5 2 4 1 3 8 33 0-2-7 2 0 5 3-3 3-6 0 30 1 1 2 4 2 4 3 4 2 2 4 4 3 1 2 2 41 41 2-1-3-8 3 6 34-666 4 2-7 21-2 46 12 0-12 27 13 19 3 74 20 16-1 11 6 13-9 19 49 1-63 18 24 0 41 6 5 17 3 1 4 2 2 0 1-12-68 6 14 18 3 28-19 1-9 12 29 30-21 3-4 25 2 3 0 5 24 18 3 61 23 12-98-12 97 45-7 42 6 38-12-7 12-22-14 53 12-102-10 111 0-72 15 53-10-99 3 4 2 6 0 4 1 3 2 4 4 4 0 3-16 7 3 3 1 4 1 3-9 47 0 2 2 4 1 3 2 4 1 6 0 3 38-18-2 3-1 5-1 3 0 4 224-155 70 22 4 1 6 0 4-2 3-2 4 1-17 13 3 1 4-3 4 0 6 0-5-19-18 32 3-1 5 0-20 20 3-2 1-4 5-1 3-2 11 0 14-3 2 4 2 5 4 12 3 16 3 3 3 4 4 2 2 6 1 2 1 4 4 5 1 4-15-27 1 4 4 5 1 3 380-438 3 2 2 5 3 39 2 18 3 0 4 2-4 5 2 12-2 47-382 321 1 3 3 5 0 1 2 4 3 7 1 1 3 4 1 6 179-67 2-1 2 2 4-1-10 12 10 0 3 7-16 6 18 12-18 30 21 14 17-58 3 0 6-2 1-1 5-3 2-2-17 21 14 8-17 12 1 5 27-6 5-2 5-1 4 1 1 2-247 54 3 3 2 1 14-6-24-22 66 22 2-2 0-4 3-3 1-5 1-3 4 1 6-2 2 4 0 3 4 2 2 3 4 0 5-3 3-3 1-3 5-3 1 3 3 2 2 1 4 6 1 2 2 4-22-28 4 0 5 3 2 2 3 3 5-10 4-1 4 0 4-4 3 0 4 3 6 0 1 3 2 3 1 3 18 9-24 5 19-7-20 6 0 5 19-9-6-1-8-1 20 5-4-2 3 5-4-4-3-4 13 9-14 0-14-6 4 10-7-8 27 7-4-10 76 4 6-1-2 6-5-1 3 3 10-8 66 11 1-2 4 1 5-2 3 2 4 5 2 2-1123-123-10 28-24-27 37 73-23-1 22 14" marker-start="url(#mR)" marker-mid="url(#mR)" marker-end="url(#mR)"/></g>
<g clip-path="url(#cb)"><path fill="none" d="M202.5 1931.5l16-55 5-1 3 2 4 1 4-2-4 8 2 4 3 2 1 5 5 2 0 2 6 2 2 3 6 0 2-1 1-3 5-1 3-2 3-4 2 1 6-3-51 27 3-1 4-1 5-2 4 0 6 15 3-2 4-2 5-3 5-2 2-1 4-2 2-12-4 3-6 3 0 0 5-4 4 4 5 3-4-9-2 3 5 0 41-14-17-6 13-7-8 14 18-7-4 6 14-4-37 4 5-10-1 4-6 23 4-2 4 1 2 0 6-1 4-3 1 1 4 0 5-3 3 5 5 0 1 2 4 5 1 2 4 2 1 6-53 10 5 3 5 1 1 0 5 0 6-78 2-1 3-5 3-2 3-4 2-1 3-5 2-3 1-1 1-5 2-3 3-5 1-4 0-3 2-5 4-2 2-3-18 5 6 4 3 0 26 6 5-3 8-3-1-6 3-5 3-7 4-4 2-7 6-3 3-4 2-4 7-3 4-3-24 30 6 6 2 6 6 5 2 6 1 4 5 6 5-52-14 9 17 9 2 15 1 19-23 0-25 3-3 5 0 0-3 6 2 3-3 3 56 0-25 8-20-4 11-10 16 62 21 13-70 10 39 7-4-89 18 10 23 38-7-5-48 18 32-21-36-5 37-20-47 27 42-43-32 94-1-21 4-71 15 81 24-85-6 59-19 5 4-50 14-6-32 75 21-35 12-2-27 6-30-21 1 67 73-35-63 21 11-6 30-20 8-35 8 28-7 31-42-45 9-34 43 63-32-15 33-49-44 64 15-20-23-28 34 12 22 58 3-65-38-17-13-3 12 91 22-61-41 58-19-9 68-80 7 60-47-23 19 10 22 39-46-92 38 66-10-60-49 86 24-44 51-29-28-14-6 70-34 3 68 7-15 12-6-41 9 26-16-14-38-34 12 54 38-59 18-24-70 13 2 2 4 2 3 2 4 0 3-1 5-2 3-1 2 0 4 0 6 0 1 0 4 3 4-1 3 3 4 1 4 2 17-18 5 3 2 2 1 3 3 5 2 4 2 1 2 4 1 3 3-1 1-4 2-6 2-1 3-6 0-3 2-5 3 4 3 4 1 5 19-1 5-1 3-2 0 3 4 4 0 3 2-2 4 0 4-3 1-3 5 0 2-1 7-3 2-1 4-2 1-2 3-4 3-1 3-2 0-3 3-2 0-4 1-4 2-4-17 52 5 0 102-166 5 1 3 2-12 33 10 3-13 9-2 11 20-8 1 13-24 13 27-2-52 70 2 3 4 1 3-1 3 6 1 3 4 5 2 0 1 3 2 4-2-14 5-2 2-2 3-2-30-4 10 18-5-8 3 4 15-2 2 4-23 2 13 4 44-27 14 32-9 0-6-52 4 46-4-2 3-23 10 8 0 32-9-58 424-61 4 0 2 3 7-1 1 3 4 1 4 2 1 3 1 5 3 3-1 4 3 2 1 5-1 3 3 4 1 4 0 3 0 6 1 3 3 2 1 3-33-53 3 4 7 2 2 1-16 110 24-3-3 8-20-23 17 37 7-20 9-62 3 2-1 4 3 4 1 5 0 1 0 5 1 3 1 6 3 4 9-64 3 2 2 0 4 2 5-1-17 38 4-1 2-1 5-1 11 16 5 3 4 1-17-10 14-3-1 11-26-1 14-7 10-29-5-1 5 11-13-3 15 16-17 5-4 2 14-1 1 9 2-22 161-156-3 16 5-1 4 2-54 182 51 0-5 34 2 6 0-23 27-121 0 67 45 48 2 0 6 2 4 1 4 1 2-3 3 1 5-1-6 12 4 1 6 1 1 1 4 2 2 1 2 6 3 3 3 1 0 4 3 2 5 3 2 4 4 2 2 0 1 1 6 0 2-1 1-2 4-1 4 3 5 0-22-38 1 4 4 3 2 1 3 4 3 2 2 1 6 1 4 3 4-1 4 0 3-59-2 4-1 3-9 29 4 3 2 3 2 1-3 5-2 5 54-37 3-5 2-2 1-6 3-4 2-1 0-6 2-4 2-1 1-5 2-2 0-5-15 80-1 6 2 5 1 2 2 1 2 4 5 2 4 1" marker-start="url(#mB)" marker-mid="url(#mB)" marker-end="url(#mB)"/>
<path fill="none" d="M212.5 1814.5l1-1 6 4 3 2-12-1 2 3 3 1 4 3-14 26 1 4-2 3 2 3-1 4-9 35 2 2 5 1 2 2-13 17 0 2-5 4 4 9 1-1 4-2 29-83 3 9 20 2 0-20-23 0 24 21-9-17 10-4-16-3 19 12-6 11-5 5 5-1 6-25 11 16 5 3 2 1-29 8 2 3 1 1 3 3 3 3 57 65 3 2 6 1 3 2 17-110 5 6 3 5 2 4 2 2 77 40-8-47-2 45-52-7-12 18 12 13-4-2 38 3 27-44-22 11 18 44-11-23-42 32 59 4-45-18 3-3 4-4 2-3 0-4 2-4 2-3 1-3 2-5 3-2 1-4 2-5 38 39 2 6 2 2 3 3-1 6 4 3 4 0 1 5 3 3 6-3 4 0 2-38 5-2 5-1 2-2 5-1 3 4 4 0 3 2 0 4 3 1 2 4 6 2 3-1 3 2 12-112 1-3 6-4 2 1 4 2 3 5 0 4 1 3-2 4 0 4-20 5 2 4-2 5 1 2-1 5 95-233 3-2 5-2 2 15 2 0 4 3-17-6 0 11 17 16-19 32 21 20 1 6-24 4-2 19-2 22-2 21-2 28-18 82 3 0 4-2 121-105 12 34 3 3 1 2 0 3 4-5 5-2-2-5-3-3-11-8 25 29 5 2 3 0 5 4 2 2 4 3 2 3 2 5-1 4 2 3 2-106 6 2 3 1 4-2 4 0 4 2 3-1-27 114 0 5 1 5 1 5 2 2-1 4 1 5 2 2-1 5 20 17 2 5 1 1 0 6 2 5 1 2 6 3 1 2 2 2 5-1 6-1 1-4 4-3 1-9 2 0 5-2 5-22 2 0 4-1 4-3 23-18 1 4 1 5 4 3 3-1 3-3 0 3 2 4 4 10 1-1 4 3 59-69 4 3 0 2-17 48 2 5 4 2 43 7 0 4 3 3 1 2 0 3 5 3 2 5 2 1 0 5 1 2 24 16 0 4 2 4 3 1 97-7-2-34-18 29 0-7 2 1 215-59 21-62" marker-start="url(#mO)" marker-mid="url(#mO)" marker-end="url(#mO)"/>
<path fill="none" d="M332.5 1827.5l122 12 5-4 0-3 2-1 2 2 5 1 0 5 2 3 130-12 3 2 5 2 2 3 4 2-18 11 0 6 1 3-1 6-2 3 41-31 3-2 5-2 3 0-1 22 4 3 4 3 1 1-2 5 1 2-1 5-22-8 1 5 3 3-43 20 114-275-1 31 92-4 0 36-44 149 4 2 6 2 2 1 2 3 1 3 3 3-6-103 1 17 2 16 2 11 1 18-99 29 3-2 3-1 3-3-7 13 7-2 3-2-22 46 15-29-15 16 8-1 1-17-14 35 15-36-15 43 0 21 14-62-6-8-7 23 18 45-3-22 13-27 2 2 2 2 2 5 1 1 3 5 2 1 2 4 5 2-10 41 1 2 1 4 2 5 20-58 1-5 2-3 0-4 2-2 1-4 1-3 2-5 4 29-1 5 1 3 4 3 1 3 1 6 2 3 0 3 3 3-2 2-1 4 1 4-2 6-4-3-5-1 1-37 4 0 4 4 3 1 71-48-119 64 104-89 2-2 1-2 5-5 2 4 4 4 0 3 1 5-16 41 1 3 4 2 3 4 1 2 0 3 4 3 2 5 1 4 3 3 1 2 0 11 0 2 0 6 2 2 1 3 1 0 5-5 1-3 2-2 2-3 22-57 4 2 4 1 1 3 6-2 4 0 2 0 4 1-26 14 5-1 4 0 4 0 2 0 2 3 3 2 10 39 2 6 3 3-3 5-1 4-1 16-7-120 0-3 1-4 2-4-3-4 1-5-2-2 1-5 3-5 1-3 0-3 0-3 3-5-2-4 3-3 0-4 0-3 2-3 0-6 2-2 1-4-1-4 2-4 0-5 1-2 3-3-1-7 2-3 1-3 0-5 0-2 1-4 2-5 1-6 0-2 1-3 2-5 4 1 3 1 1 6 3 2 2 4-2 5 2 4-23 66 4 2 2 5 1 2 2 4 3 2-1 4 3 4-1 5 0 5 3 2 1 7 0 3 0 4 0 3 2 6 0 3-1 3 1 4 0 3 0 4 1 4 1 4-1 4 2 4 0 3 0 3 0 4-45-67 4 0 1 1 2 3 5 0-3 4-3 1 0 4-5-3 3 1 5 2 66-47 0 22 15 39 0-3-16 7 3-2-1 5 109 65 1-3 3-3 2-2 1-2 3-5 3-2 4-3 3 16 5-52 3-1 4 3 2 2-13 8 4 1 3 2-3 5-3 1 37-3-6 12 8 9-21-29 31 7-30 71-8-45 16 23 14 25-19-77-4-6 2 53 25-45-25 68 13-42 4 34 22-31-21 8 48-18-9 39-4-13-24 6 19 24-4-50 23 22-33 2-11-37 42 22-4-20-19 2 19 29-24-17-10-14 4 1 3-1 4-2 5-2 4 0 1-3 4-2-1 20 1 5 1 4 2 2 0 5 1 4 1 3 2 3 1 6 1 2 1 4-1 3 3 5 0 3 4 3 1-2 1-5 2-3 3-6 2-3 2-4 2-2 5 1 2 1 5 4 1 3 2 4 3 2 4 0 2 4 5 2 3 0 1 3 3 2 4-3 4-1 2-4 3-1 2-4 1-2 2-5-1-5 5 0 2-5 3-1 4-5 2-2 6-2 4-1 1-2 2-1 3-4 4-3 4 2 6-4 4 0 5-2 3-1 4-1 3-1 3 5 0 3 4 6 2 4 3 2 3 1 2 1 3 1 4 2 4 1 6 0 4 3 1 0 5 0 4 2 1 4 3 5-1 8 3 4 2 5 1 2 4 0 2-2 2-2 5-1 2-2 4-72 0 3 3 5 0 3-1 6 0 3-1 3 0 3 0 4 0 3 1 3-1 5 0 5-2 5 0 4 47-67 5-1 3 0-10 11 5 3 3-2 5 1-17 11 2 2 3 4 12 0 5 1 3-1 0 65 4-2 5-3 3-1 5 3 5 0 0-3 4-1 36-16 1 0 4 2 6 1 2-1 6-2 3 1-42 22 6-2 3 2 4 0 4 0 5 1 17-2 4-4 1-2 4-1 4 1 5-3 4 0 4 3 3 0 9-75-6 17-3 19" marker-start="url(#mY)" marker-mid="url(#mY)" marker-end="url(#mY)"/>
<path fill="none" d="M188.5 1885.5l3 2 4 1 2 1 5 2 41-59 2 3 6 1 3 3 15 50 1 2-4-12 10 12-14-10 1 8-1-9 6-1-4 6-1-6 2-12 4 5 0 5 2 2 26-34 3 2-1 5 4 1 2 32 29-4-31 8-6-5 29 4 0-7 4 2-3 2 3 0-26-4 10-1-13 9 16 62 28-97 3 3 1 4 0 3 3 4 41 20-5-39 32 56-45-31-13 68 54-58-20 18-33-54 44 14-14-15-45 15 53 46 28 5-39-67 31 91 2-3 3-3 1-4 1 0 5-6 0-1 4-4 3-5-2-4 3-5 1-2 3-4-1-3 0-5 1-1 2-5 33 51 3-2 6 1 2-2 1-3 4-1 39-86 4-4 3-1 4-3 1-1 4-1-28 38 3-2 3 0 3 0 4-1-30 14 6-2 1-1 3-2 431-70 2 0 5 3-10 12 3-2 2 0 7 0 1 0 3-2 3 4 4 1 1 3 4 4 3 15 3 0 5 2 3-3 2-3 1-4 1 1 1 5 3 3 2 4 3 3 0 5 5 2 2-4 0-2-24 5 3 3 1 3 24 15 3 1 5 1 30-11 5-2 3-2 0 5-1 4-3 3-110 25 3 4 4 1 3 1 2 4 0 4 2 3 3 2 1 3 77-16 2 0 3 5 2 3 2-4 4 0 49-49-14 48 0 0 0-7 24 6-16 26 30-3-1 14-23-37 2 21-10-48 11 27 22-18-40 5 36-26-15 44 13-24-9 54 14-33-25 7-12-31 5 3 3-1 4 3 4 1 2 4 3 49 31-119 5 2 4 0 2-1 5-1 2 4 0 2 4 2 1 3 2 4 6 2 1 1-28-2 2 1 5 1 2 4 5 2 6 14-6-5 10 10 3-3-9-6 4 6 5 2-11-10-32 41-2-7 20 27-22-13 7-19 12 17 20-8 2 1 5 4 1 2 3 3 4 3 2 1 3-3 2-2 3-2 3-4 3-3 3-3 5-2 2 2 1 2 2 4 4 1 1 5 1 4 2 5 1 3 1 3 5 2 2 3 0-3 3-4 3-5 1-5 0-1 2-4 0-6 0-2 1-4 1-4 2-6 3-2 2-2 2-1 2-4 2 4 3 4 1 1 3 5-1 3 2 4 39-1 3-5-1-4 3-4 0-4 22-156 3 10 6-1-6 16 27 9 20 68 0 3 3 5 1 2 1 4 20-2 1 3 3 3 2 2 0 6 4 4-1 4 55 75 4 0 5-1 2-2 5 0 4-2 15-80 1 1 1 4-17 27 3 2 5-2 3-2 4-4 2-1 52 37 4-1 4 1" marker-start="url(#mP)" marker-mid="url(#mP)" marker-end="url(#mP)"/>
<path fill="none" d="M257.5 1844.5l1 4 4 4 1 2 2 2-39 65 2 0 5 0 4 2 5 0 24-8 2 2 2 3 3 4 1 2 17-45 3 0 4 1 2 3 9 40 5 3 1 1 3 3 5 3 2 0 7 2 2 3-31-47 0 4 3 5 54 40 13 1 5-15-16 13 10-10 9-19-34 17 3 14 0 1 5-28-2 30 3-2 3-3 3-5 3-1 3-2 4-2 74-147 2-6 5-9 2-5 2-6 3-5 0 6 5 4 1 9 1 4 1 7 0 9 0 9 1 8 2 4 0 6 0 7 2 6 0 8 3 5 0 6 0 6 0 5-31-35-1 15 30 40 3 1 4 4 4 0 5 1 1 2 6 0 2-2 2-3 1-3 10-63 2-3 2-4 1-5 0-3 2-5 2-4 4-1 6 0 2 3 4 3 1 2 3 3 4 1 2 5 3 1 1 4-38 14-1 12-2 13 88-38 2 2 4 1 3 0 1 5 2 1 0 4 3 4 1 2 4 2 1 6 0 3 1 4 9 60 167-161-128 133 2-1-6 20-3-25 9 32-8-31 2-12-1 33-4-18 2 6 149-104 2 11 3 9 2 12-21 88 5-1 3-5 5-2 0 0 3-1 5-4 3 0 2-2 4-4 2 0 3-5 2 0 3-4 4-1 5-2 4 0 5-1 2 0-43 41 1-4 4-4 1-4 4-3 1-3 5-3 1 0 39-38 3 1 2 2 10 13 2 3 2 5-2 2-4 0 10 19 2 3 3 1 2 3 4 2 2 5 1 2 1 4 3 3 1 5 1-92 0 2 1 5-1 5 1 3 0 4-2 3 32-101 0 38 13 55 5 2-12-1 3-6 5 13 0-17-7 15-7-5 15 1-9-11 9 3-2 8 3-9 6 13-2-11-4 4-1 6-7 5 0-10 8-6 5 25 3 2 1 4 3 1 4 0 4 1 4 1-17 8 4 0 5-2 34-67 2-2 2-6 2-3 4-1 2 0 1 1 4 3 0 3 9 6 2-3 2-2 2-3 2-4 1-5 2-4 2 4 4 3-17 34 2-5-1-2 2-4-29 5 19 25 4-2 4-4 2-2 3-2 2-2 2-4 2 3 3 3-49 28 5 1 2-2 3-1 6-2 4-1 3-1 3 0 2-2 20-8 2 3 1 5 0 3-109 22 3 6 0 4 4 2 0 4 2 3 2 6 1 3 3 4 1 3 2 3 4 5 0 5 3 2 3 3 5 4 4 2 3 1-9-44 4-3 3 0 4-3 5-1 2-2 6 0 2 6 3 2 6 1 2 2 3 1 4 3 3 2-1 34 3-4 2-3 1-4 3-4 3-1 3-2 3-4 3 1 7-1 2 3 0 1 2 4-22-23 0 5 2 4 55-53 6 48-7-9 31-44-21 36 13 28 3-26-14 16 5 26 2-29 6-9-7 15 40-85 5 0 3 0 3 2 4 2 4-1 4 2 1 0 2 3 1 3-2-28-20 76-33 6 20 49-4-48 34 26-30-26-14-20 15 40-21-14 3 10 10 6 26-21-23-27-10 44-13-54 4 2 4 2 5 2 2 4 3 0 4 5 3 0 3 0 2-2 6 0 3-2 3-1 2-3-37 55 0 2 5 3 0 3 4 4 1 2 2 2 5 4 90-10 3 0 2-2 2-4 4 0 3-2 5 0 2-2 6 1 3 1 3 0 3 0 6 3 1-1 4 2 3-1 4-3-2-51 3-3 0-3 4-4 3-2 0-6 2-3 0-4 2-1 1-3 2-4 3-5 1-5 3-1 1-6 1 3 6 3 0 4 1 5 3 3-15-53-1 6 3 4-1 5 1 3 28 22 3 5 0 2-53 50 4 1 3 1 38-11 3-5 2-1 24-51 44 75 4-1 4 3 4-2 3 3 2 3 4 4 1 34 1-2 4-3 7-47 3-1 1-3 4 0 0 2 2 4 2 4 2 5 2 3 3 4 18-19 1-6 1-2 2-5 4 0 2-2 5 1 1 1-4-12" marker-start="url(#mG)" marker-mid="url(#mG)" marker-end="url(#mG)"/>
<path fill="none" d="M215.5 1826.5l6 1 2 2 5 1-40 65 5 0 2 0 4 2-2 14 2 4 3 2 28-76 6 1 3 0 3 0-17 91 4 2 2 3 5 3 3 3 5-3 3-1 2 0 3-1 6 0 1-2 5 0 2-3 5 0-26-37 2 15-3-12 4-1-8 10 4 2 5-3-10-11 10 28-6-18 51 23 5 2 5 0 4 1 2 0 4 2 7 0 4 0 4 2 1 3 4 2 4 4 1 1 4 4-14-4 4 3 4 0 1 0 5 1 66-118-58 46 1 64 24-58 41 15-18-10-15 54-15-45 17-40-28 38 55-7-62 52 6-5-7-25 8-40 23 51 1-35-2 11-11 45-7-85 30 22 14-32-3 34 21-7-42 2 9-4 11 14 3-13-21 28 22 10-24-59-27 6 6 4 40 16 21-11-55-5-9 52 36-45 20 44-32-7 19-17-47-8 71 1-26-30 12 80-34-51 12-12-25-13 39 40 23 47-7-2-3-96-59 99 62-37-21-19-17-30-23 8 2-2 3-1 3-4 3-3 3-3 4 2 4-2 2-2 3 1 7 0 2-1 6-2 4 0 47 18 0 3 5 3 0 5 2 4 1 2 1 5 2 4-1 5 2 3 1 3 0 6 2 3 0 3 2 4 2 4-14 8 1 5 2 3 1 5-1 3 2 4 39-145 4-1 2-4 1-2-1-6 39-117-1 12 70 125 3 1 4 2 6 2 2 4 2 4 0 1-43 12 2 3 4 2 3 1-23 54 3 3 2 4 5 1-3 4-1 4-1 4-1 4-3 4-1 1 6-3 2 2 3 1 7 0 3 1 2 2 0 2 4 4 0 3 3-4 4-2 2-2 1-4 2-4 3-2 0-5 2-6 3-1 1-3 3 1 2 5 0 4 3 1 1 5 2 3 1 5 3 3-19-54 2 2 1 0 3 4 5 1 3 1 1 5 5-1 3 0 2-1 3-2 3-3 0-3 3-2 3-5-8-53 2-5 3-1 3-4-24 68-4 23-18-16 7 13-12-24 7 16-14 14 20-11-5-30-2 24-17 17 29-22 61-271 1 5 1 3 1 5-8 10 10 4-12 16 15 3-16 15 16 7-19 7 21 14-23 9 26 22-27-2-2 19-2 10 33 7-35 7-3 9-3 15 73-59 2 4 3 3 5 4-1 3 0 4 3 4-1 2 3 5 0 2 0 4-12-18-60 29 3 5 2 0 3 7 1 2 0 5 4 2-1 6 2 3-17-12-3 12 33-2 10-13-20 26-15-37 2 4 4 3 2 4-1 5 3 4-1 3 56 2 2 4 3 3 1 3 2 1 2 6 1 2 0 4 1 4 0 5 0 4 0 2-1 5-25-8 1-3 2-5 2-3 2-4 2-2 1-6-80 3 3 3 2 1 3 2 11 45-6 10-1 18-12 5 14-45 6 39-7-71 1 32-1 34-10 1 4-48-7-11 40 21 4 0 3-2 5-1 4 4 1 0 3-1 6-1-22 7-1 5 4 3 1 4 4 1 0 5 2 4-6 6 3 4 1 3 2 4-3 4-1 1-1 4-3 3-1 5-3 2 1 4 42-61 2 6 2 5 2-6 5-3 2-1 2-2 1 4 1 5 2 2-1 5-24 9 5 3 2 2 202-121-1 37 4 2 5-1 6-23 4 2 2 1 18 70 3 1-1 3 4 4 1 5 1 1 0 5 16-5 5-4 3-1 6-3 1 0 6-1 3-1-35 43 3 1 6-1 3 1 29 15 4 2 2 2 2-1 3 1 4-2 58-12-12-21 27 13-16-22-16 5 10 1-7 2 13-16 4 26-19-20-4 12 1 0 7 3 3 0 46-91 3 0 5 2 14 55-56-4 24 13-13 13 10-22-2 5 220-79 45 53 4-3 1-3 3-2 3-2 2-2 3 2 2 6 2 2 11 45 2 2 3 5 3 2 7-1 2-2 4 3 1 2 4 3 3 2 4 2 2 3-9-41 2-1 4-6 0-2 4-1 2-5 3-1 3-4 2-3 4-2 1-24 4 2 3 1 4-1 3-5 1-3 2 3 2 3-9 6-15 78 4 2 0 5 4 3-1 3 0 1 0 5 2 4 59-40 1-3 2-4 0-3 7 3 4 1-13 30 6-3 4-1" marker-start="url(#mC)" marker-mid="url(#mC)" marker-end="url(#mC)"/>
<path fill="none" d="M213.5 1820.5l4 2 4 3 4 0-20 5 2 4 1 5-10 38-2 2-9 55 5 2 4 3 1 0-2 4-3 3-1 2 4 1 4 1 3 1-15 3 38-108 9 18 5-24-6 17 15-15-1 8-7 1-2 17 13-3-5-6-17-19 20 18-6-10-10 18 7-26-5 9-8 18 24-4 16 3-5 0-4-8 3 0-4 11 10-2-7 2 8-2-8-1 2-5 36-4 1 3 4 3 3 2 36-38 0 4 4 2 4 44 2 1 2 4 4 3 34-12-36 62 38 1-23-31-2 26-6-19 29-33-39 16 37 35-27-66 9 64-7-17-16-58 56 43-50-2 70-9-37-35 1 2 3 1 5 0 3 2 4 2 3 3 0 1 4 5 1 2-16 68 3 0 4 3 3 2 0 4 3 4-52 2 4-1 5-1 3 0 64-130 3-7 3-5 3-5 3-4 5 7 1 4 3 4 2 6 1 4 0 5 1 5-25-7-1 7-1 5-2 6 2 6-2 7-2 5 23 51 4 4 2 2 1 3 5 1 2 2 2 3 1 3 2 2 2 6 3 1 0 5 2 4-1-34 2-2 2-3 3-3 3-5 3-3 2 0 7-1 2-1 5 1 5 2 2-3 3 0 5 0-25-57 2 2 13-198-3 17-2 21-1 19-2 36-2 39-2 28 45 57 4-1 2 3 3 2-20 6 58-11 3-2 2-2 4-2 6-1 1 1 4 2 4-1 4 5 1 1 5 2 3 2 11-25 4 1 4-1 5 1 5 1-68 63 5-2 1-4-1 5 1 3 0 5-2 2 141-237-1 4 1 4-5 13 10-2 1 18-14 5 16 19-17 6 19 22-23 3 0 4-3 3-23 20-21 16 47-8 25-8-20 0-8 39-20 3 4 4-1 5 2 4-47-8 5 1 1 4 87 13-45 3 13 1-11 20 8-7-4 18 3 3 1 3 38-11 3 21 1-1 4 3-90-72-5 2 3 15-8-13 2 2 244 65 1 4 0 3 2 18 4 4 3 1 60-33 2 6 0 3 1 4 61 22 3 0 3-2 44-79 5 1 21 56-3-26 2-3-19-21 12 6-10 11 3 10 24 10-17-11 0 35-1-26-7-28-5-8 3-4 5 46-12 15 13-11-1 15 11-12 4 4 3 3 25-35 8 52-27-25 14-14-14 26 5-19 4-21-4 12-13 15 23 0-9 10-3 20-9-64 15 45 28-32 4 0 4-1 3 3 1-2 5 5 0 2 3 2 2 3 0 4 4 1 3 2 5-2 4 1 3-4 4 6 3 1 2 4 0 3 3 7 4 2 1 5-1 5 2 4 4 1 5 0 3 1 5 0 5 0 3-2 2-1 2-4 1-2-104-48 0 2 3 5 0 2 2 5-1 4 1 5 4 4 1 2 1 6 2-5 4-2 86-7 7 1 3 2 3-2 3-2 3-1 2 0 3 3 24-29 4 0 4-3 2 1 2 3 2 2 1 4 1 2 2 5-1 2 1 5 5 1 5-1 3 1 3 3 4 3 3 1 5 1 2 2-1-17 4-6-1-3 1-4 1-4 0-3 3-5 0-1 1-6 2-2 1-5-1-4 2-3 1-4 3-5-1-4 2 3 5 4 0 3 1 4 3 4-1 5 2 4-1 2 2 4-1 4 1 4 3 4 0 3 0 6 2 3 0 2 1 6 1 2 4 1 3 3 2 1 3 4 3 4 3 1 1 2 2 3 2 4 0 13 142-163 3 2 4 2 0 1-2 4" marker-start="url(#mR)" marker-mid="url(#mR)" marker-end="url(#mR)"/></g>
<line x1="1554.5" y1="33" x2="1554.5" y2="827.5" stroke="#e2e2e2" stroke-width="3"/>
<line x1="210" y1="826.5" x2="1556" y2="826.5" stroke="#dedede" stroke-width="2.2"/>
<line x1="210.4" y1="33.5" x2="1553.0" y2="33.5" stroke="#a5a5a5" stroke-width="2.6"/>
<line x1="210.4" y1="824.2" x2="1553.0" y2="824.2" stroke="#bdbdbd" stroke-width="2.6"/>
<line x1="211.7" y1="33.5" x2="211.7" y2="824.2" stroke="#b3b3b3" stroke-width="2.6"/>
<line x1="1551.7" y1="33.5" x2="1551.7" y2="824.2" stroke="#bdbdbd" stroke-width="2.6"/>
<line x1="435.0" y1="33.5" x2="435.0" y2="45.5" stroke="#8a8a8a" stroke-width="2.5"/>
<line x1="435.0" y1="824.2" x2="435.0" y2="812.2" stroke="#8a8a8a" stroke-width="2.5"/>
<line x1="658.4" y1="33.5" x2="658.4" y2="45.5" stroke="#8a8a8a" stroke-width="2.5"/>
<line x1="658.4" y1="824.2" x2="658.4" y2="812.2" stroke="#8a8a8a" stroke-width="2.5"/>
<line x1="881.7" y1="33.5" x2="881.7" y2="45.5" stroke="#8a8a8a" stroke-width="2.5"/>
<line x1="881.7" y1="824.2" x2="881.7" y2="812.2" stroke="#8a8a8a" stroke-width="2.5"/>
<line x1="1105.0" y1="33.5" x2="1105.0" y2="45.5" stroke="#8a8a8a" stroke-width="2.5"/>
<line x1="1105.0" y1="824.2" x2="1105.0" y2="812.2" stroke="#8a8a8a" stroke-width="2.5"/>
<line x1="1328.4" y1="33.5" x2="1328.4" y2="45.5" stroke="#8a8a8a" stroke-width="2.5"/>
<line x1="1328.4" y1="824.2" x2="1328.4" y2="812.2" stroke="#8a8a8a" stroke-width="2.5"/>
<line x1="211.7" y1="692.4" x2="223.7" y2="692.4" stroke="#555555" stroke-width="2.5"/>
<line x1="1551.7" y1="692.4" x2="1539.7" y2="692.4" stroke="#333333" stroke-width="2.5"/>
<line x1="211.7" y1="560.6" x2="223.7" y2="560.6" stroke="#555555" stroke-width="2.5"/>
<line x1="1551.7" y1="560.6" x2="1539.7" y2="560.6" stroke="#555555" stroke-width="2.5"/>
<line x1="211.7" y1="428.9" x2="223.7" y2="428.9" stroke="#bbbbbb" stroke-width="2.5"/>
<line x1="1551.7" y1="428.9" x2="1539.7" y2="428.9" stroke="#777777" stroke-width="2.5"/>
<line x1="211.7" y1="297.1" x2="223.7" y2="297.1" stroke="#333333" stroke-width="2.5"/>
<line x1="1551.7" y1="297.1" x2="1539.7" y2="297.1" stroke="#333333" stroke-width="2.5"/>
<line x1="211.7" y1="165.3" x2="223.7" y2="165.3" stroke="#cacaca" stroke-width="2.5"/>
<line x1="1551.7" y1="165.3" x2="1539.7" y2="165.3" stroke="#cccccc" stroke-width="2.5"/>
<text x="191.5" y="849.3" text-anchor="end" class="t" font-size="61.5">0</text>
<text x="191.5" y="717.2" text-anchor="end" class="t" font-size="61.5">5</text>
<text x="191.5" y="585.1" text-anchor="end" class="t" font-size="61.5">10</text>
<text x="191.5" y="453.0" text-anchor="end" class="t" font-size="61.5">15</text>
<text x="191.5" y="320.9" text-anchor="end" class="t" font-size="61.5">20</text>
<text x="191.5" y="188.8" text-anchor="end" class="t" font-size="61.5">25</text>
<text x="191.5" y="56.6" text-anchor="end" class="t" font-size="61.5">30</text>
<text x="212.2" y="906" text-anchor="middle" class="t" font-size="61.5">6</text>
<text x="435.5" y="906" text-anchor="middle" class="t" font-size="61.5">8</text>
<text x="658.9" y="906" text-anchor="middle" class="t" font-size="61.5">10</text>
<text x="882.2" y="906" text-anchor="middle" class="t" font-size="61.5">12</text>
<text x="1105.5" y="906" text-anchor="middle" class="t" font-size="61.5">14</text>
<text x="1328.9" y="906" text-anchor="middle" class="t" font-size="61.5">16</text>
<text x="1552.2" y="906" text-anchor="middle" class="t" font-size="61.5">18</text>
<text transform="translate(97.5,429.0) rotate(-90) scale(1,0.963)" text-anchor="middle" class="t" font-size="67.6">sigma of errors [cm]</text>
<text x="881.5" y="989.8" text-anchor="middle" class="t" font-size="67.6">local time [h]</text>
<text x="818.7" y="1095" text-anchor="middle" class="cap">(<tspan font-weight="bold">a</tspan>)</text>
<line x1="188.6" y1="1146" x2="188.6" y2="1966" stroke="#e8e8e8" stroke-width="2.6"/>
<line x1="189.2" y1="1146.2" x2="1578.1" y2="1146.2" stroke="#555555" stroke-width="2.6"/>
<line x1="189.2" y1="1965.3" x2="1578.1" y2="1965.3" stroke="#4d4d4d" stroke-width="2.6"/>
<line x1="190.5" y1="1146.2" x2="190.5" y2="1965.3" stroke="#aaaaaa" stroke-width="2.6"/>
<line x1="1576.8" y1="1146.2" x2="1576.8" y2="1965.3" stroke="#3a3a3a" stroke-width="2.6"/>
<line x1="421.5" y1="1146.2" x2="421.5" y2="1158.2" stroke="#3a3a3a" stroke-width="2.5"/>
<line x1="421.5" y1="1965.3" x2="421.5" y2="1953.3" stroke="#3a3a3a" stroke-width="2.5"/>
<line x1="652.6" y1="1146.2" x2="652.6" y2="1158.2" stroke="#3a3a3a" stroke-width="2.5"/>
<line x1="652.6" y1="1965.3" x2="652.6" y2="1953.3" stroke="#3a3a3a" stroke-width="2.5"/>
<line x1="883.6" y1="1146.2" x2="883.6" y2="1158.2" stroke="#3a3a3a" stroke-width="2.5"/>
<line x1="883.6" y1="1965.3" x2="883.6" y2="1953.3" stroke="#3a3a3a" stroke-width="2.5"/>
<line x1="1114.7" y1="1146.2" x2="1114.7" y2="1158.2" stroke="#3a3a3a" stroke-width="2.5"/>
<line x1="1114.7" y1="1965.3" x2="1114.7" y2="1953.3" stroke="#3a3a3a" stroke-width="2.5"/>
<line x1="1345.8" y1="1146.2" x2="1345.8" y2="1158.2" stroke="#3a3a3a" stroke-width="2.5"/>
<line x1="1345.8" y1="1965.3" x2="1345.8" y2="1953.3" stroke="#3a3a3a" stroke-width="2.5"/>
<line x1="190.5" y1="1828.8" x2="202.5" y2="1828.8" stroke="#c8c8c8" stroke-width="2.5"/>
<line x1="1576.8" y1="1828.8" x2="1564.8" y2="1828.8" stroke="#c8c8c8" stroke-width="2.5"/>
<line x1="190.5" y1="1692.3" x2="202.5" y2="1692.3" stroke="#444444" stroke-width="2.5"/>
<line x1="1576.8" y1="1692.3" x2="1564.8" y2="1692.3" stroke="#444444" stroke-width="2.5"/>
<line x1="190.5" y1="1555.8" x2="202.5" y2="1555.8" stroke="#c8c8c8" stroke-width="2.5"/>
<line x1="1576.8" y1="1555.8" x2="1564.8" y2="1555.8" stroke="#c8c8c8" stroke-width="2.5"/>
<line x1="190.5" y1="1419.2" x2="202.5" y2="1419.2" stroke="#444444" stroke-width="2.5"/>
<line x1="1576.8" y1="1419.2" x2="1564.8" y2="1419.2" stroke="#444444" stroke-width="2.5"/>
<line x1="190.5" y1="1282.7" x2="202.5" y2="1282.7" stroke="#c8c8c8" stroke-width="2.5"/>
<line x1="1576.8" y1="1282.7" x2="1564.8" y2="1282.7" stroke="#c8c8c8" stroke-width="2.5"/>
<text x="168.5" y="1989.7" text-anchor="end" class="t" font-size="63.5">0</text>
<text x="168.5" y="1853.1" text-anchor="end" class="t" font-size="63.5">5</text>
<text x="168.5" y="1716.5" text-anchor="end" class="t" font-size="63.5">10</text>
<text x="168.5" y="1579.9" text-anchor="end" class="t" font-size="63.5">15</text>
<text x="168.5" y="1443.3" text-anchor="end" class="t" font-size="63.5">20</text>
<text x="168.5" y="1306.7" text-anchor="end" class="t" font-size="63.5">25</text>
<text x="168.5" y="1170.1" text-anchor="end" class="t" font-size="63.5">30</text>
<text x="190.0" y="2048.5" text-anchor="middle" class="t" font-size="63.5">6</text>
<text x="421.0" y="2048.5" text-anchor="middle" class="t" font-size="63.5">8</text>
<text x="652.1" y="2048.5" text-anchor="middle" class="t" font-size="63.5">10</text>
<text x="883.1" y="2048.5" text-anchor="middle" class="t" font-size="63.5">12</text>
<text x="1114.2" y="2048.5" text-anchor="middle" class="t" font-size="63.5">14</text>
<text x="1345.2" y="2048.5" text-anchor="middle" class="t" font-size="63.5">16</text>
<text x="1576.3" y="2048.5" text-anchor="middle" class="t" font-size="63.5">18</text>
<text transform="translate(71,1553.0) rotate(-90) scale(1,0.98)" text-anchor="middle" class="t" font-size="69.9">sigma of errors [cm]</text>
<text x="882" y="2136.5" text-anchor="middle" class="t" font-size="69.9">local time [h]</text>
<text x="818.5" y="2245.5" text-anchor="middle" class="cap">(<tspan font-weight="bold">b</tspan>)</text>
</svg>
</body></html>
